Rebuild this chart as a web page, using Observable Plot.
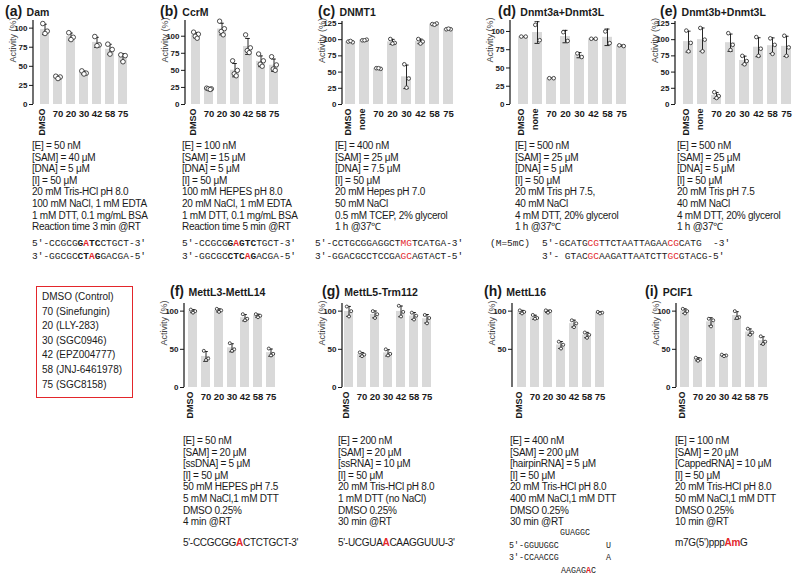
<!DOCTYPE html>
<html><head><meta charset="utf-8">
<script src="https://cdn.jsdelivr.net/npm/d3@7"></script>
<script src="https://cdn.jsdelivr.net/npm/@observablehq/plot@0.6"></script>
<style>
body{margin:0;background:#fff;}
#fig{position:relative;width:800px;height:575px;overflow:hidden;font-family:"Liberation Sans",Arial,Helvetica,sans-serif;color:#1a1a1a;background:#fff;}
.abs{position:absolute;white-space:pre;}
.cond{font-size:10px;line-height:11.6px;letter-spacing:-0.25px;}
.mono{font-family:"Liberation Mono","Courier New",monospace;font-size:9.5px;line-height:12.5px;}
.b{font-weight:bold;}
.r{font-weight:bold;color:#e3262b;}
.ttl{font-weight:bold;}
.ttl .lt{font-size:14px;}
.ttl .nm{font-size:10.5px;}
</style></head><body><div id="fig"></div>
<script>
// ---------- data ----------
const cats7 = ["DMSO","70","20","30","42","58","75"];
const cats8 = ["DMSO","none","70","20","30","42","58","75"];

const damRep   = [[106,96,93],[37,36,34],[94,88,85],[44,41,40],[89,78,77],[79,72,66],[65,64,56]];
const ccrmRep  = [[106,103,100,97],[24,23,23,22],[122,111,107,102],[64,50,45,42],[102,83,79,76],[74,64,59,56],[70,58,52,50]];
const dnmt1Rep = [[97,96,98],[99,100,99],[56,55,56],[101,95,94],[62,40,26],[101,97,94],[124,125,123],[116,116,117]];
const d3aRep   = [[93,93],[109,88],[36,36],[99,87],[70,65],[90,90],[100,84],[81,80]];
const d3bRep   = [[114,95,82],[118,100,82],[19,13,10],[110,92,84],[75,67,62],[104,86,75],[102,92,78],[106,88,75]];
const m3Rep    = [[102,100,98],[48,38,36],[103,101,99],[58,50,48],[96,90,88],[96,94,92],[51,44,42]];
const m5Rep    = [[106,100,93],[46,43,41],[100,96,91],[50,44,42],[107,99,93],[98,94,89],[95,91,84]];
const m16Rep   = [[101,99,97],[95,91,90],[101,100,98],[60,56,51],[88,84,79],[72,69,65],[99,98,97]];
const pcifRep  = [[103,100,97],[39,37,35],[90,88,80],[43,42,41],[100,92,91],[77,72,69],[67,60,57]];

const ticks25 = [0,25,50,75,100];
const ticks125 = [0,25,50,75,100,125];
const ticks50 = [0,50,100];
const ticks50h = [50,100];

const titles = [["(a)","Dam"],["(b)","CcrM"],["(c)","DNMT1"],["(d)","Dnmt3a+Dnmt3L"],["(e)","Dnmt3b+Dnmt3L"],
                ["(f)","MettL3-MettL14"],["(g)","MettL5-Trm112"],["(h)","MettL16"],["(i)","PCIF1"]];

const condA = ["[E] = 50 nM","[SAM] = 40 μM","[DNA] = 5 μM","[I] = 50 μM","20 mM Tris-HCl pH 8.0","100 mM NaCl, 1 mM EDTA","1 mM DTT, 0.1 mg/mL BSA","Reaction time 3 min @RT"];
const condB = ["[E] = 100 nM","[SAM] = 15 μM","[DNA] = 5 μM","[I] = 50 μM","100 mM HEPES pH 8.0","20 mM NaCl, 1 mM EDTA","1 mM DTT, 0.1 mg/mL BSA","Reaction time 5 min @RT"];
const condC = ["[E] = 400 nM","[SAM] = 25 μM","[DNA] = 7.5 μM","[I] = 50 μM","20 mM Hepes pH 7.0","50 mM NaCl","0.5 mM TCEP, 2% glycerol","1 h @37℃"];
const condD = ["[E] = 500 nM","[SAM] = 25 μM","[DNA] = 5 μM","[I] = 50 μM","20 mM Tris pH 7.5,","40 mM NaCl","4 mM DTT, 20% glycerol","1 h @37℃"];
const condE = ["[E] = 500 nM","[SAM] = 25 μM","[DNA] = 5 μM","[I] = 50 μM","20 mM Tris pH 7.5","40 mM NaCl","4 mM DTT, 20% glycerol","1 h @37℃"];
const condF = ["[E] = 50 nM","[SAM] = 20 μM","[ssDNA] = 5 μM","[I] = 50 μM","50 mM HEPES pH 7.5","5 mM NaCl,1 mM DTT","DMSO 0.25%","4 min @RT"];
const condG = ["[E] = 200 nM","[SAM] = 20 μM","[ssRNA] = 10 μM","[I] = 50 μM","20 mM Tris-HCl pH 8.0","1 mM DTT (no NaCl)","DMSO 0.25%","30 min @RT"];
const condH = ["[E] = 400 nM","[SAM] = 200 μM","[hairpinRNA] = 5 μM","[I] = 50 μM","20 mM Tris-HCl pH 8.0","400 mM NaCl,1 mM DTT","DMSO 0.25%","30 min @RT"];
const condI = ["[E] = 100 nM","[SAM] = 20 μM","[CappedRNA] = 10 μM","[I] = 50 μM","20 mM Tris-HCl pH 8.0","50 mM NaCl,1 mM DTT","DMSO 0.25%","10 min @RT"];

const seqA = [[["5'-CCGCG",""],["G","b"],["A","r"],["TC","b"],["CTGCT-3'",""]],
              [["3'-GGCGC",""],["CT","b"],["A","r"],["G","b"],["GACGA-5'",""]]];
const seqB = [[["5'-CCGCG",""],["G","b"],["A","r"],["GTC","b"],["TGCT-3'",""]],
              [["3'-GGCGC",""],["CTC","b"],["A","r"],["G","b"],["ACGA-5'",""]]];
const seqC = [[["5'-CCTGCGGAGGCT",""],["MG","r0"],["TCATGA-3'",""]],
              [["3'-GGACGCCTCCGA",""],["GC","r0"],["AGTACT-5'",""]]];
const seqCnote = "(M=5mC)";
const seqDE = [[["5'-GCATG",""],["CG","r0"],["TTCTAATTAGAA",""],["CG","r0"],["CATG  -3'",""]],
               [["3'- GTAC",""],["GC","r0"],["AAGATTAATCTT",""],["GC","r0"],["GTACG-5'",""]]];
const seqF = [["5'-CCGCGG",""],["A","r"],["CTCTGCT-3'",""]];
const seqG = [["5'-UCGUA",""],["A","r"],["CAAGGUUU-3'",""]];
const seqI = [["m7G(5')ppp",""],["Am","r"],["G",""]];
const hairpin = [["GUAGGC",""],["5'-GGUUGGC",""],["U",""],["3'-CCAACCG",""],["A",""],["AAGAG",""],["A","r"],["C",""]];

const legendItems = ["DMSO (Control)","70 (Sinefungin)","20 (LLY-283)","30 (SGC0946)","42 (EPZ004777)","58 (JNJ-6461978)","75 (SGC8158)"];

// ---------- layout ----------
const FONT = '"Liberation Sans", Arial, Helvetica, sans-serif';
const fig = document.getElementById("fig");

const row1 = {top:0, h:135, y0:104};
const row2 = {top:280, h:140, y0:387};
const panels = [
  {cats:cats7, reps:damRep,   row:row1, left:0,   w:140, ax:33,  yT:20, yMax:110, c0:43,  step:13.5,  ticks:ticks25,  r:2.3, tx:5,   ty:2},
  {cats:cats7, reps:ccrmRep,  row:row1, left:150, w:140, ax:185, yT:20, yMax:123, c0:195, step:13.33, ticks:ticks25,  r:2.2, tx:160, ty:2},
  {cats:cats8, reps:dnmt1Rep, row:row1, left:305, w:160, ax:342, yT:21, yMax:128, c0:350, step:14,    ticks:ticks125, r:1.8, tx:318, ty:2},
  {cats:cats8, reps:d3aRep,   row:row1, left:470, w:165, ax:510, yT:20, yMax:115, c0:522, step:14.3,  ticks:ticks25,  r:1.8, tx:498, ty:2},
  {cats:cats8, reps:d3bRep,   row:row1, left:640, w:160, ax:675, yT:21, yMax:128, c0:688, step:14.1,  ticks:ticks125, r:1.8, tx:660, ty:2},
  {cats:cats7, reps:m3Rep,    row:row2, left:150, w:140, ax:184, yT:303, yMax:110, c0:192, step:13.33, ticks:ticks50, r:1.5, tx:170, ty:282},
  {cats:cats7, reps:m5Rep,    row:row2, left:315, w:130, ax:342, yT:303, yMax:110, c0:348, step:13.2,  ticks:ticks50, r:1.5, tx:322, ty:282},
  {cats:cats7, reps:m16Rep,   row:row2, left:480, w:130, ax:512, yT:303, yMax:110, c0:521, step:13.2,  ticks:ticks50h,r:1.5, tx:484, ty:282},
  {cats:cats7, reps:pcifRep,  row:row2, left:640, w:135, ax:676, yT:303, yMax:110, c0:683, step:13.5,  ticks:ticks50, r:1.5, tx:645, ty:282}
];

function panel(cfg){
  const {cats, reps, row, left, w, ax, yT, yMax, c0, step, ticks, r} = cfg;
  const pad = 0.3, top = row.top, h = row.h, y0 = row.y0;
  const n = cats.length;
  const rows = cats.map((c,i)=>{const v=reps[i], m=d3.mean(v), s=d3.deviation(v)||0; return {c, m, lo:m-s, hi:m+s};});
  const nrep = d3.max(reps, v=>v.length);
  const offs = {2:[-2.2,2.2],3:[-2.2,2.2,0],4:[-2.4,2.4,-0.8,1.2]}[nrep];
  const pts = reps.flatMap((v,i)=>v.map((y,j)=>({c:cats[i], y, j})));
  const r0 = c0 - left - step*(1+pad)/2, r1 = r0 + step*(n+pad);
  const bw = step*(1-pad), cap = Math.max(0,(bw-5)/2);
  const isWord = d => isNaN(+d.c);
  const chart = Plot.plot({
    width:w, height:h, marginLeft:ax-left, marginRight:0, marginTop:yT-top, marginBottom:top+h-y0,
    style:{background:"transparent", fontFamily:FONT, color:"#1a1a1a", overflow:"visible"},
    x:{type:"band", domain:cats, range:[r0,r1], padding:pad, axis:null},
    y:{domain:[0,yMax], range:[y0-top, yT-top], axis:null},
    marks:[
      Plot.barY(rows,{x:"c", y:"m", fill:"#d9d9d9"}),
      Plot.ruleX(rows,{x:"c", y1:"lo", y2:"hi", stroke:"#111", strokeWidth:0.9}),
      Plot.tickY(rows,{x:"c", y:"hi", stroke:"#111", strokeWidth:0.9, insetLeft:cap, insetRight:cap}),
      Plot.tickY(rows,{x:"c", y:"lo", stroke:"#111", strokeWidth:0.9, insetLeft:cap, insetRight:cap}),
      ...offs.map((dx,j)=>Plot.dot(pts.filter(p=>p.j===j),{x:"c", y:"y", r, dx, stroke:"#222", strokeWidth:0.8, fill:"white"})),
      Plot.axisY({ticks, tickSize:4, tickPadding:2, fontSize:8, fontWeight:"bold", label:null, strokeWidth:1}),
      (index, scales, values, dims) => {
        const l = d3.create("svg:line")
          .attr("x1", dims.marginLeft).attr("x2", dims.marginLeft)
          .attr("y1", dims.marginTop).attr("y2", dims.height - dims.marginBottom)
          .attr("stroke","#111").attr("stroke-width",1.2);
        return l.node();
      },
      Plot.text(rows.filter(d=>!isWord(d)),{x:"c", text:"c", frameAnchor:"bottom", dy:12, fontSize:9.5, fontWeight:"bold"}),
      Plot.text(rows.filter(isWord),{x:"c", text:"c", frameAnchor:"bottom", dy:4, rotate:-90, textAnchor:"end", fontSize:9, fontWeight:"bold"}),
      Plot.text(["Activity (%)"],{text:d=>d, frameAnchor:"left", dx:-20, rotate:-90, fontSize:9, fill:"#444"})
    ]
  });
  chart.style.position = "absolute";
  chart.style.left = left+"px";
  chart.style.top = top+"px";
  fig.appendChild(chart);
}
panels.forEach(panel);

function div(html, x, y, cls, extra){
  const d = document.createElement("div");
  d.className = "abs " + (cls||"");
  d.style.left = x+"px"; d.style.top = y+"px";
  if (extra) Object.assign(d.style, extra);
  d.innerHTML = html;
  fig.appendChild(d);
  return d;
}
const segs = arr => arr.map(([t,s]) => s==="r0" ? `<span style="color:#e3262b">${t}</span>` : `<span class="${s}">${t}</span>`).join("");

// titles
titles.forEach(([lt,nm],i)=>{
  const p = panels[i];
  div(`<span class="lt">${lt}</span> <span class="nm">${nm}</span>`, p.tx, p.ty, "ttl");
});

// condition blocks
const conds = [[condA,32,140],[condB,182,140],[condC,335,140],[condD,515,140],[condE,677,140],
               [condF,183,435],[condG,338,435],[condH,510,435],[condI,675,435]];
conds.forEach(([lines,x,y])=>div(lines.join("\n"), x, y, "cond"));

// sequences (top row)
[[seqA,32],[seqB,182],[seqC,315],[seqDE,542]].forEach(([s,x])=>div(s.map(segs).join("\n"), x, 238, "mono"));
div(seqCnote, 490, 238, "mono");
// bottom row sequences
div(segs(seqF), 183, 537, "", {fontSize:"10px", letterSpacing:"-0.3px"});
div(segs(seqG), 338, 537, "", {fontSize:"10px", letterSpacing:"-0.3px"});
div(segs(seqI), 675, 537, "", {fontSize:"10px", letterSpacing:"-0.3px"});
// hairpin
const hp = {fontFamily:'"Liberation Mono",monospace', fontSize:"8.3px"};
div(segs([hairpin[0]]), 560, 528, "", hp);
div(segs([hairpin[1]]), 509, 541, "", hp);
div(segs([hairpin[2]]), 606, 541, "", hp);
div(segs([hairpin[3]]), 509, 553, "", hp);
div(segs([hairpin[4]]), 606, 553, "", hp);
div(segs(hairpin.slice(5)), 561, 566, "", hp);

// legend box
div(legendItems.join("\n"), 36, 286, "", {width:"90px", height:"107px", border:"1px solid #e3262b", padding:"3px 0 0 5px", fontSize:"10px", lineHeight:"14.6px"});
</script></body></html>
